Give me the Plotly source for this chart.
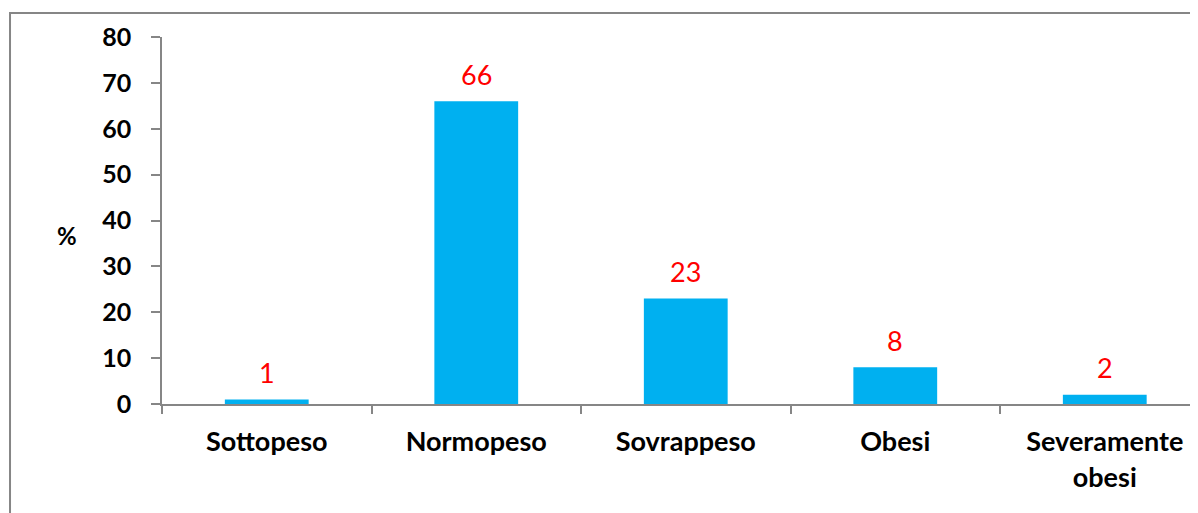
import plotly.graph_objects as go

categories = ["Sottopeso", "Normopeso", "Sovrappeso", "Obesi", "Severamente<br>obesi"]
values = [1, 66, 23, 8, 2]
y_ticks = [0, 10, 20, 30, 40, 50, 60, 70, 80]

BAR_COLOR = "#00B0F0"
AXIS_COLOR = "#868686"
FONT = "Lato, Carlito, 'Open Sans', sans-serif"

fig = go.Figure(go.Bar(
    x=categories,
    y=values,
    marker=dict(color=BAR_COLOR, line=dict(width=0)),
    width=0.4,
    hoverinfo="skip",
))

# red value labels above bars
for c, v in zip(categories, values):
    fig.add_annotation(
        x=c, y=v, text=str(v), showarrow=False,
        yanchor="middle", yshift=27,
        font=dict(family=FONT, size=27, color="#FF0000"),
    )

# "%" axis label, horizontal
fig.add_annotation(
    xref="paper", yref="paper", x=-0.1035, y=0.46,
    text="<b>%</b>", showarrow=False,
    font=dict(family=FONT, size=24, color="black"),
)

# chart area border
fig.add_shape(
    type="rect", xref="paper", yref="paper",
    x0=-0.1467, x1=1.05, y0=-0.5, y1=1.0654,
    line=dict(color=AXIS_COLOR, width=2),
    fillcolor="rgba(0,0,0,0)", layer="below",
)

# page body has an 8px margin, so the margins are shifted by that amount
fig.update_layout(
    width=1198, height=513,
    margin=dict(l=154, r=8, t=29, b=117),
    paper_bgcolor="white", plot_bgcolor="white",
    showlegend=False,
    font=dict(family=FONT, color="black"),
    bargap=0.6,
)
fig.update_xaxes(
    range=[-0.5, 4.445], automargin=False,
    showline=True, linecolor=AXIS_COLOR, linewidth=2,
    ticks="outside", tickson="boundaries", ticklen=8,
    tickcolor=AXIS_COLOR, tickwidth=1.5,
    ticklabelstandoff=13,
    tickfont=dict(family=FONT, size=27, color="black", weight="bold"),
    showgrid=False, zeroline=False,
)
fig.update_yaxes(
    range=[0, 80], tickvals=y_ticks, automargin=False,
    showline=True, linecolor=AXIS_COLOR, linewidth=1.5,
    ticks="outside", ticklen=9, tickcolor=AXIS_COLOR, tickwidth=1.5,
    ticklabelstandoff=15,
    tickfont=dict(family=FONT, size=25, color="black", weight="bold"),
    showgrid=False, zeroline=False,
)

fig.write_html("out.html")
